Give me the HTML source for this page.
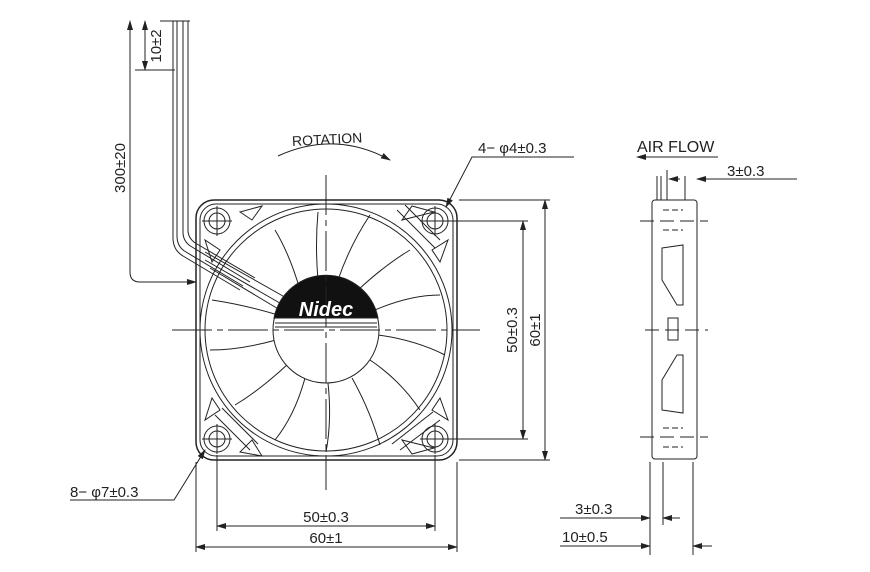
<!DOCTYPE html>
<html><head><meta charset="utf-8"><style>
html,body{margin:0;padding:0;background:#fff;}
svg{display:block;}
text{font-family:"Liberation Sans",sans-serif;fill:#222;}
</style></head><body>
<svg width="870" height="572" viewBox="0 0 870 572" xmlns="http://www.w3.org/2000/svg">
<defs>
<marker id="a" markerWidth="10" markerHeight="6" refX="9" refY="3" orient="auto-start-reverse" markerUnits="userSpaceOnUse"><path d="M0,0 L10,3 L0,6 Z" fill="#222"/></marker>
<clipPath id="sq"><rect x="200" y="204" width="253" height="252" rx="16"/></clipPath>
</defs>
<g stroke="#222" fill="none" stroke-width="1">
<path d="M173,21 V238 Q173,250 183,256 L240,290" />
<path d="M177,21 V236 Q177,247 186,252 L243,286" />
<path d="M183,21 V232 Q183,242 192,247 L250,282" />
<path d="M188,21 V230 Q188,239 197,244 L255,278" />
<line x1="160" y1="21" x2="190" y2="21"/>
<line x1="135" y1="70" x2="175" y2="70"/>
<line x1="145" y1="21" x2="145" y2="70" marker-start="url(#a)" marker-end="url(#a)"/>
<path d="M130,21 V272 Q130,282 140,282 H196" marker-end="url(#a)"/>
<line x1="130" y1="21" x2="130" y2="30" marker-start="url(#a)"/>
<rect x="196" y="200" width="261" height="260" rx="18" stroke-width="1.5"/>
<rect x="200" y="204" width="253" height="252" rx="16"/>
<g clip-path="url(#sq)">
<circle cx="326" cy="330" r="126"/>
<circle cx="326" cy="330" r="121"/>
</g>
<path d="M240,212 L262,206 L252,220 Z"/><path d="M205,240 L212,262 L220,250 Z"/>
<path d="M412,206 L434,212 L402,220 Z"/><path d="M448,240 L440,262 L432,250 Z"/>
<path d="M205,420 L212,398 L220,410 Z"/><path d="M240,452 L262,456 L252,440 Z"/>
<path d="M448,420 L440,398 L432,410 Z"/><path d="M412,454 L434,448 L402,440 Z"/>
<path d="M405,205 L440,240"/><path d="M397,210 L435,248"/>
<path d="M400,450 L440,420"/><path d="M392,444 L433,412"/>
<path d="M250,450 L215,415"/><path d="M258,444 L222,408"/>
<g>
<circle cx="217" cy="221" r="13"/><circle cx="217" cy="221" r="8"/>
<circle cx="435" cy="221" r="13"/><circle cx="435" cy="221" r="8"/>
<circle cx="217" cy="439" r="13"/><circle cx="217" cy="439" r="8"/>
<circle cx="435" cy="439" r="13"/><circle cx="435" cy="439" r="8"/>
<path d="M202,221h30M217,206v30M420,221h30M435,206v30M202,439h30M217,424v30M420,439h30M435,424v30"/>
</g>
<g>
<path d="M300,290 Q290,255 275,230"/><path d="M318,280 Q315,245 318,212"/>
<path d="M338,280 Q350,245 370,215"/><path d="M358,290 Q385,265 410,250"/>
<path d="M375,310 Q410,295 440,295"/><path d="M378,335 Q415,340 445,355"/>
<path d="M370,360 Q400,380 420,410"/><path d="M352,378 Q370,410 380,445"/>
<path d="M328,383 Q332,420 326,452"/><path d="M305,378 Q295,415 275,440"/>
<path d="M288,364 Q260,390 235,405"/><path d="M276,340 Q240,350 210,350"/>
<path d="M278,315 Q245,305 212,300"/>
</g>
<path d="M205,252 L290,300"/><path d="M205,260 L285,306"/>
<path d="M210,268 L280,310"/>
<circle cx="326" cy="330" r="53" fill="#fff"/>
<path d="M274,318 A53,53 0 0 1 378,318 Z" fill="#111"/>
<path d="M275,323 H377 M275,327 H377" />
<path d="M326,175 V490" stroke-dasharray="40,5,6,5"/>
<path d="M172,330 H480" stroke-dasharray="40,5,6,5"/>
<path d="M437,221 H528 M459,200 H550 M437,439 H528 M459,460 H550"/>
<line x1="523" y1="221" x2="523" y2="439" marker-start="url(#a)" marker-end="url(#a)"/>
<line x1="545" y1="200" x2="545" y2="460" marker-start="url(#a)" marker-end="url(#a)"/>
<path d="M217,455 V531 M435,455 V531 M196,462 V552 M457,462 V552"/>
<line x1="217" y1="526" x2="435" y2="526" marker-start="url(#a)" marker-end="url(#a)"/>
<line x1="196" y1="547" x2="457" y2="547" marker-start="url(#a)" marker-end="url(#a)"/>
<path d="M446,207 L472,157 H574" marker-start="url(#a)"/>
<path d="M205,450 L174,500 H70" marker-start="url(#a)"/>
<path d="M278,156 Q335,130 390,160" marker-end="url(#a)"/>
<rect x="652" y="200" width="45" height="259" rx="3"/>
<path d="M657,176 V200 M661,176 V200 M667,170 V200 M685,176 V200"/>
<path d="M640,221 H708 M640,437 H708 M645,330 H708" stroke-dasharray="14,6"/>
<path d="M663,210 H683 M663,230 H683 M663,428 H683 M663,447 H683" stroke-dasharray="6,3"/>
<path d="M662,248 L683,245 V305 L677,305 L662,280 Z"/>
<path d="M662,410 L683,413 V355 L677,355 L662,380 Z"/>
<rect x="668" y="318" width="10" height="22"/>
<line x1="669" y1="179" x2="680" y2="179" marker-start="url(#a)"/>
<line x1="697" y1="179" x2="797" y2="179" marker-start="url(#a)"/>
<line x1="718" y1="157" x2="637" y2="157" marker-end="url(#a)"/>
<path d="M650,462 V555 M663,462 V525 M693,462 V555"/>
<line x1="560" y1="518" x2="650" y2="518" marker-end="url(#a)"/>
<line x1="680" y1="518" x2="663" y2="518" marker-end="url(#a)"/>
<line x1="560" y1="546" x2="650" y2="546" marker-end="url(#a)"/>
<line x1="712" y1="546" x2="693" y2="546" marker-end="url(#a)"/>
</g>
<text x="326" y="316" text-anchor="middle" font-size="20" font-weight="bold" font-style="italic" style="fill:#fff">Nidec</text>
<text x="292" y="144" font-size="14" transform="rotate(-3 330 140)">ROTATION</text>
<text x="478" y="153" font-size="15">4− φ4±0.3</text>
<text x="70" y="497" font-size="15">8− φ7±0.3</text>
<text x="326" y="522" font-size="15" text-anchor="middle">50±0.3</text>
<text x="326" y="543" font-size="15" text-anchor="middle">60±1</text>
<text font-size="15" text-anchor="middle" transform="translate(517 330) rotate(-90)">50±0.3</text>
<text font-size="15" text-anchor="middle" transform="translate(540 330) rotate(-90)">60±1</text>
<text font-size="15" text-anchor="middle" transform="translate(125 168) rotate(-90)">300±20</text>
<text font-size="15" text-anchor="middle" transform="translate(161 46) rotate(-90)">10±2</text>
<text x="637" y="152" font-size="16">AIR FLOW</text>
<text x="727" y="176" font-size="15">3±0.3</text>
<text x="575" y="514" font-size="15">3±0.3</text>
<text x="562" y="542" font-size="15">10±0.5</text>
</svg>
</body></html>
